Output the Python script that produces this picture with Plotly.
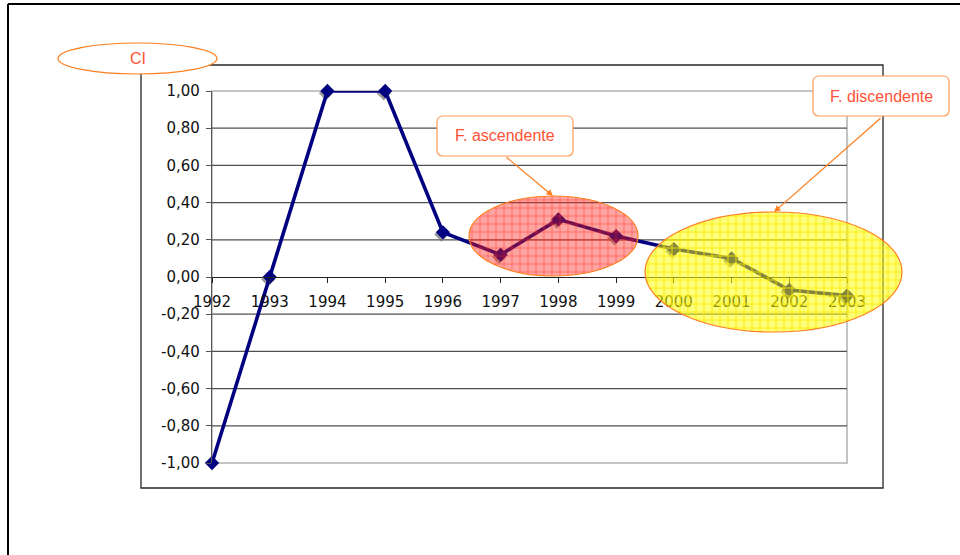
import numpy as np
import plotly.graph_objects as go

# ---- data -------------------------------------------------------------
years = [1992, 1993, 1994, 1995, 1996, 1997, 1998, 1999, 2000, 2001, 2002, 2003]
ci_values = [-1.00, 0.00, 1.00, 1.00, 0.24, 0.12, 0.31, 0.22, 0.15, 0.10, -0.07, -0.10]
y_ticks = [-1.0, -0.8, -0.6, -0.4, -0.2, 0.0, 0.2, 0.4, 0.6, 0.8, 1.0]
y_tick_text = [f"{v:.2f}".replace(".", ",") for v in y_ticks]
axis_title = "CI"
phase_labels = ["F. ascendente", "F. discendente"]

# ---- page geometry (pixels -> paper fractions) -----------------------------
W, H = 960, 555


def px(x):
    return x / W


def py(y):
    return 1 - y / H


PLOT_L, PLOT_R, PLOT_T, PLOT_B = 212, 847, 91, 463

TEXT_RED = "#FF5236"
ORANGE = "#FF7F1E"
BOX_ORANGE = "#FF9A55"
NAVY = "#000080"


def ellipse(cx, cy, rx, ry, fill, grid, outline, step=8, grid_w=1.0):
    """Hatched ellipse: translucent fill, a square grid clipped to it, outline."""
    out = [dict(type="circle", xref="paper", yref="paper",
                x0=px(cx - rx), x1=px(cx + rx), y0=py(cy + ry), y1=py(cy - ry),
                fillcolor=fill, line=dict(width=0), layer="above")]
    if grid:
        segs = []
        gx = np.ceil((cx - rx) / step) * step
        while gx < cx + rx:
            t = (gx - cx) / rx
            h = ry * np.sqrt(max(0.0, 1 - t * t))
            segs.append(f"M{px(gx):.5f},{py(cy - h):.5f}L{px(gx):.5f},{py(cy + h):.5f}")
            gx += step
        gy = np.ceil((cy - ry) / step) * step
        while gy < cy + ry:
            t = (gy - cy) / ry
            w = rx * np.sqrt(max(0.0, 1 - t * t))
            segs.append(f"M{px(cx - w):.5f},{py(gy):.5f}L{px(cx + w):.5f},{py(gy):.5f}")
            gy += step
        out.append(dict(type="path", xref="paper", yref="paper", path="".join(segs),
                        line=dict(color=grid, width=grid_w), layer="above"))
    out.append(dict(type="circle", xref="paper", yref="paper",
                    x0=px(cx - rx), x1=px(cx + rx), y0=py(cy + ry), y1=py(cy - ry),
                    fillcolor="rgba(0,0,0,0)", line=dict(color=outline, width=1.2),
                    layer="above"))
    return out


def round_box(x0, y0, x1, y1, r=6, color=BOX_ORANGE):
    p = (f"M{px(x0 + r)},{py(y0)}L{px(x1 - r)},{py(y0)}"
         f"Q{px(x1)},{py(y0)} {px(x1)},{py(y0 + r)}"
         f"L{px(x1)},{py(y1 - r)}Q{px(x1)},{py(y1)} {px(x1 - r)},{py(y1)}"
         f"L{px(x0 + r)},{py(y1)}Q{px(x0)},{py(y1)} {px(x0)},{py(y1 - r)}"
         f"L{px(x0)},{py(y0 + r)}Q{px(x0)},{py(y0)} {px(x0 + r)},{py(y0)}Z")
    return dict(type="path", xref="paper", yref="paper", path=p,
                fillcolor="white", line=dict(color=color, width=1.2), layer="above")


def label(x, y, text, size):
    return dict(x=px(x), y=py(y), xref="paper", yref="paper", text=text,
                xanchor="center", yanchor="middle", showarrow=False,
                font=dict(family="Liberation Sans", size=size, color=TEXT_RED))


def arrow(head, tail):
    return dict(x=px(head[0]), y=py(head[1]), xref="paper", yref="paper", text="",
                showarrow=True, ax=tail[0] - head[0], ay=tail[1] - head[1],
                arrowcolor=ORANGE, arrowwidth=1.3, arrowhead=2, arrowsize=1, standoff=0)


fig = go.Figure()

# soft drop shadow under the markers
fig.add_trace(go.Scatter(
    x=[v - 0.025 for v in years], y=[v - 0.012 for v in ci_values],
    mode="markers", cliponaxis=False, hoverinfo="skip",
    marker=dict(symbol="diamond", size=11, color="rgba(120,120,120,0.75)", line=dict(width=0)),
))
fig.add_trace(go.Scatter(
    x=years, y=ci_values, mode="lines+markers", cliponaxis=False,
    line=dict(color=NAVY, width=3.6),
    marker=dict(symbol="diamond", size=11, color=NAVY, line=dict(width=0)),
))

shapes = []
# chart frame
shapes.append(dict(type="line", xref="paper", yref="paper", x0=px(8), x1=px(965),
                   y0=py(4), y1=py(4), line=dict(color="black", width=2)))
shapes.append(dict(type="line", xref="paper", yref="paper", x0=px(8), x1=px(8),
                   y0=py(4), y1=py(560), line=dict(color="black", width=2)))
shapes.append(dict(type="rect", xref="paper", yref="paper", x0=px(141), x1=px(883),
                   y0=py(488), y1=py(65), line=dict(color="#262626", width=1.3),
                   layer="below"))
# plot-area border and horizontal gridlines
shapes.append(dict(type="rect", xref="x domain", yref="y domain", x0=0, x1=1, y0=0, y1=1,
                   line=dict(color="#C4C4C4", width=2), layer="below"))
for t in y_ticks[1:-1]:
    if t == 0.0:
        continue
    shapes.append(dict(type="line", xref="x domain", yref="y", x0=0, x1=1, y0=t, y1=t,
                       line=dict(color="#505050", width=1.2), layer="below"))

# highlighted phases
shapes += ellipse(553.5, 236, 84.5, 40, "rgba(255,30,20,0.40)",
                  "rgba(255,40,30,0.42)", ORANGE)
shapes += ellipse(773.5, 272, 128.5, 60, "rgba(255,255,0,0.52)",
                  "rgba(245,235,0,0.85)", ORANGE)
# axis title bubble
shapes += ellipse(137.5, 58.5, 79.5, 15.5, "white", None, ORANGE)
# callout boxes
shapes.append(round_box(437, 116, 573, 156))
shapes.append(round_box(813, 76, 949, 116))

annotations = [
    label(137.5, 58.5, axis_title, 16),
    label(505, 136, phase_labels[0], 16),
    label(881, 96, phase_labels[1], 16),
    arrow((553, 196), (505, 156)),
    arrow((774, 212), (882, 117)),
]

ydom = [py(PLOT_B), py(PLOT_T)]
fig.update_layout(
    width=W, height=H, autosize=False,
    margin=dict(l=0, r=0, t=0, b=0),
    paper_bgcolor="white", plot_bgcolor="white",
    showlegend=False,
    shapes=shapes, annotations=annotations,
    xaxis=dict(
        domain=[px(PLOT_L), px(PLOT_R)], range=[years[0], years[-1]],
        tickmode="array", tickvals=years, ticktext=[str(y) for y in years],
        anchor="free", position=(ydom[0] + ydom[1]) / 2,
        showline=True, linecolor="#222222", linewidth=1.3,
        ticks="outside", ticklen=5, tickcolor="#222222", tickwidth=1.2,
        ticklabelstandoff=6,
        showgrid=False, zeroline=False, automargin=False,
        tickfont=dict(family="DejaVu Sans", size=15, color="#111111"),
    ),
    yaxis=dict(
        domain=ydom, range=[-1, 1],
        tickmode="array", tickvals=y_ticks, ticktext=y_tick_text,
        showline=True, linecolor="#555555", linewidth=1.3,
        ticks="outside", ticklen=5, tickcolor="#555555", tickwidth=1.2,
        ticklabelstandoff=3,
        showgrid=False, zeroline=False, automargin=False,
        tickfont=dict(family="DejaVu Sans", size=15, color="#111111"),
    ),
)

fig.write_html("out.html")
